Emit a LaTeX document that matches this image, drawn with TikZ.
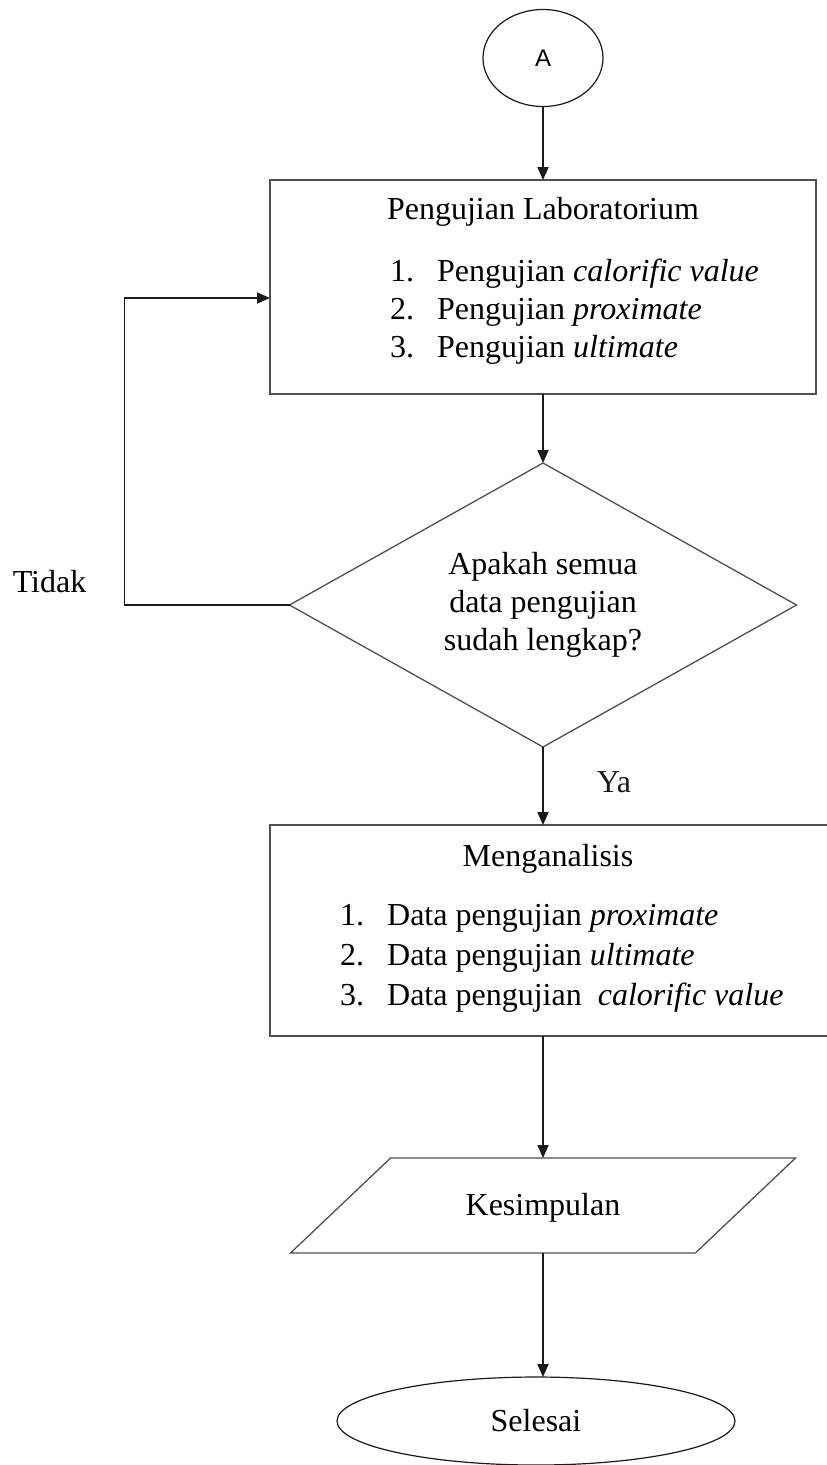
\documentclass[tikz,border=0pt]{standalone}
\usepackage{fontspec}
\setmainfont{Liberation Serif}
\newfontfamily\hurufsans{Liberation Sans}
\usepackage{tikz}
\usetikzlibrary{shapes.geometric, arrows.meta, positioning, calc}
\definecolor{garis}{HTML}{505050}
\definecolor{panah}{HTML}{1A1A1A}
\newcommand{\nomor}[1]{\makebox[47pt][l]{#1}}
\tikzset{
  connector/.style={
    ellipse, minimum width=120pt, minimum height=97pt,
    inner sep=0pt, outer sep=0pt, text centered,
    draw=panah, line width=1.2pt,
    font=\hurufsans\fontsize{24}{28}\selectfont,
  },
  process/.style={
    rectangle, minimum width=546pt, minimum height=214pt,
    inner sep=0pt, outer sep=0pt,
    draw=garis, line width=1.8pt,
  },
  decision/.style={
    diamond, aspect=1.785,
    minimum width=507pt, minimum height=284pt,
    inner sep=0pt, outer sep=0pt, align=center,
    draw=garis, line width=1.3pt,
  },
  io/.style={
    trapezium, trapezium left angle=43.5, trapezium right angle=136.5,
    trapezium stretches body=true,
    text height=57.5pt, text depth=37.5pt,
    minimum width=505pt, minimum height=95pt,
    inner sep=0pt, outer sep=0pt, text centered,
    draw=garis, line width=1.3pt,
  },
  terminal/.style={
    ellipse, minimum width=398pt, minimum height=88pt,
    inner sep=0pt, outer sep=0pt, text centered,
    draw=panah, line width=1.2pt,
  },
  title/.style={inner sep=0pt},
  list/.style={inner sep=0pt, align=left},
  jawab/.style={inner sep=0pt},
  arrow/.style={-{Triangle[length=13pt, width=11pt]}, line width=1.8pt, color=panah},
}

\begin{document}
\begin{tikzpicture}[x=1pt, y=-1pt,
  every node/.style={font=\fontsize{32}{38}\selectfont}]
  \useasboundingbox (0,0) rectangle (827,1465);

  \node[connector] (a) at (543,58) {A};
  \node[process, below=73.5pt of a] (lab) {};
  \node[title, below=17pt of lab.north] (labjudul) {Pengujian Laboratorium};
  \node[list, below right=79pt and 120pt of lab.north west] (lablist)
    {\nomor{1.}Pengujian \textit{calorific value}\\
     \nomor{2.}Pengujian \textit{proximate}\\
     \nomor{3.}Pengujian \textit{ultimate}};
  \node[decision, below=69pt of lab] (cek) {Apakah semua\\data pengujian\\sudah lengkap?};
  \node[process, minimum width=613pt, minimum height=211pt,
    below=78pt of cek, xshift=33.5pt] (analisis) {};
  \node[title, below=19pt of analisis.north -| cek.south, xshift=5pt] (anajudul) {Menganalisis};
  \node[list, below right=79pt and 70pt of analisis.north west] (analist)
    {\nomor{1.}Data pengujian \textit{proximate}\\[2pt]
     \nomor{2.}Data pengujian \textit{ultimate}\\[2pt]
     \nomor{3.}Data pengujian \ \textit{calorific value}};
  \node[io, below=411pt of cek] (kes) {Kesimpulan};
  \node[terminal, below=124pt of kes, xshift=-7pt] (selesai) {Selesai};

  \coordinate (balik) at ($(cek.west)+(-165pt,0)$);
  \node[jawab, anchor=east] (tidak) at ([xshift=-38pt, yshift=23pt]balik) {Tidak};

  \draw[arrow] (a) -- (lab);
  \draw[arrow] (lab) -- (cek);
  \draw[arrow] (cek.west) -- (balik) |- ([yshift=-11pt]lab.west);
  \draw[arrow] (cek) -- (cek.south |- analisis.north)
    node[jawab, pos=0.45, right=53pt] (ya) {Ya};
  \draw[arrow] (cek.south |- analisis.south) -- (kes);
  \draw[arrow] (kes) -- (kes |- selesai.north);
\end{tikzpicture}
\end{document}
